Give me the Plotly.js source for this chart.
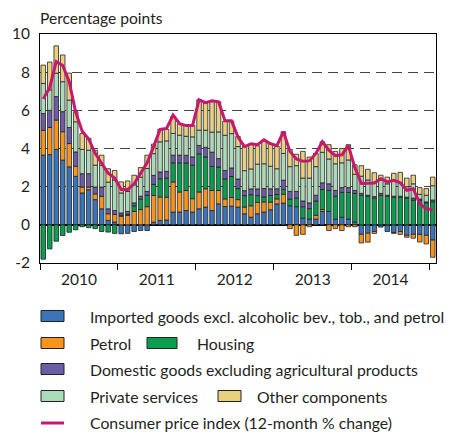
<!DOCTYPE html>
<html><head><meta charset="utf-8">
<script src="https://cdn.plot.ly/plotly-3.0.1.min.js"></script>
<style>html,body{margin:0;padding:0;background:#fff}#chart{width:457px;height:435px}</style>
</head><body><div id="chart"></div>
<script>
// ---- data (monthly, Jan 2010 – Jan 2015), percentage points ----
const yearLabels = ['2010', '2011', '2012', '2013', '2014'];
const monthNames = ['Jan','Feb','Mar','Apr','May','Jun','Jul','Aug','Sep','Oct','Nov','Dec'];

const imported = [3.65,3.68,3.95,3.39,3.04,2.54,1.67,1.84,1.32,0.84,
  0.23,0.15,-0.47,-0.45,-0.35,-0.3,-0.3,0.14,0.23,0.25,
  0.67,0.67,0.75,0.67,0.84,0.93,0.75,1.1,0.96,0.98,
  0.93,0.58,0.4,0.58,0.67,0.79,1.1,1.14,1.0,0.95,
  0.35,0.3,0.3,0.7,0.7,0.3,0.4,0.3,0.15,-0.5,
  -0.44,-0.35,-0.12,-0.35,-0.4,-0.35,-0.55,-0.5,-0.5,-0.55,
  -0.8];
const petrol = [1.3,1.42,1.54,1.49,1.22,0.53,0.31,0.14,0.3,0.65,
  0.35,0.4,0.45,0.5,0.7,0.8,0.95,1.4,1.23,1.2,
  1.58,1.05,1.05,0.7,0.88,0.96,1.05,0.7,0.4,0.45,
  0.39,0.35,0.6,0.6,0.53,0.4,0.26,0.46,-0.2,-0.55,
  -0.5,-0.1,0.2,0.1,-0.3,-0.2,-0.3,-0.1,-0.1,-0.45,
  -0.47,-0.1,0,0,-0.05,-0.15,-0.1,-0.2,-0.4,-0.45,
  -0.9];
const housing = [-1.8,-1.26,-0.86,-0.56,-0.39,-0.26,-0.1,-0.15,-0.2,-0.35,
  -0.38,-0.45,0.05,0.05,0.3,0.55,0.6,0.58,0.96,1.0,
  1.0,1.53,1.44,1.75,2.0,1.67,1.26,1.23,1.05,1.1,
  0.58,0.6,0.58,0.35,0.26,0.35,0.23,0.25,0.35,0.45,
  0.6,0.55,0.75,1.05,1.1,1.2,1.3,1.4,1.5,1.55,
  1.5,1.4,1.55,1.5,1.45,1.45,1.4,1.3,1.3,1.15,
  1.2];
const domestic = [0.88,0.9,1.23,1.05,0.84,0.75,0.7,0.7,0.36,0.49,
  0.26,0.2,0.12,0.15,0.15,0.15,0.2,0.47,0.35,0.35,
  0.4,0.4,0.4,0.44,0.44,0.5,0.75,0.44,0.44,0.45,
  0.5,0.26,0.3,0.35,0.44,0.35,0.3,0.49,0.4,0.35,
  0.3,0.3,0.3,0.35,0.35,0.3,0.25,0.25,0.15,0.1,
  0.05,0.08,0.1,0.05,0.05,0.05,0.05,0.1,0.05,0.05,
  0.1];
const services = [1.58,1.07,1.23,1.57,1.44,1.58,1.27,1.23,1.15,1.14,
  1.4,1.6,1.05,1.05,0.95,1.0,1.2,1.14,1.58,1.6,
  1.14,1.05,1.0,1.05,0.8,0.9,1.05,1.4,1.84,1.8,
  1.7,1.05,1.05,1.3,1.3,1.18,1.05,1.4,1.3,1.35,
  1.2,1.3,1.5,1.6,1.3,1.4,1.3,1.45,0.85,0.9,
  0.8,0.75,0.7,0.6,0.8,0.7,0.55,0.75,0.25,0.35,
  0.75];
const other = [0.96,1.46,1.43,1.4,1.41,0.53,0.84,0.62,0.78,0.53,
  0.7,0.5,0.58,0.55,0.5,0.5,0.7,0.5,0.65,0.6,
  0.9,0.6,0.58,0.6,1.6,1.4,1.6,1.58,0.75,0.65,
  0.53,1.26,1.28,0.96,1.23,1.2,1.18,1.14,0.9,0.6,
  1.4,1.1,0.7,0.55,0.75,0.65,0.75,0.8,0.5,0.55,
  0.56,0.5,0.25,0.35,0.4,0.55,0.45,0.45,0.35,0.35,
  0.45];
const cpi = [6.6,7.2,8.55,8.35,7.5,5.9,4.9,4.5,3.75,3.2,
  2.7,2.45,1.85,1.85,2.15,2.7,3.25,4.1,5.0,5.05,
  5.75,5.3,5.2,5.2,6.55,6.4,6.5,6.45,5.45,5.45,
  4.6,4.1,4.25,4.2,4.45,4.25,4.15,4.88,3.85,3.45,
  3.33,3.35,3.74,4.35,3.91,3.62,3.67,4.15,3.0,2.17,
  2.19,2.19,2.42,2.25,2.33,2.21,1.81,1.89,1.1,0.84,
  0.79];

const seriesNames = ['Imported goods excl. alcoholic bev., tob., and petrol','Petrol','Housing',
  'Domestic goods excluding agricultural products','Private services','Other components'];
const cpiName = 'Consumer price index (12-month % change)';
const yTickVals = [-2,0,2,4,6,8,10];
const yTickText = ['-2','0','2','4','6','8','10'];

// month categories, plotted at integer positions
const months = [];
for (let y = 2010; y <= 2015; y++) for (let m = 0; m < 12; m++) if (months.length < 61) months.push(monthNames[m] + ' ' + y);
const xIdx = months.map((_, i) => i);

const colors = ['#3B74B9','#F7941E','#0A9E4E','#6B5EA7','#AADAB6','#E9D07E'];
const cpiColor = '#C6186E';
const FONT = 'Lato, "Open Sans", sans-serif';
const TXT = '#231F20';
const FS = 15.8;

const values = [imported, petrol, housing, domestic, services, other];
const traces = values.map((v, k) => ({
  type: 'bar', x: xIdx, y: v, name: seriesNames[k], customdata: months,
  marker: {color: colors[k], line: {color: '#222', width: 0.8}},
  hovertemplate: '%{customdata}: %{y}<extra>' + seriesNames[k] + '</extra>'
}));
traces.push({type: 'scatter', mode: 'lines', x: xIdx, y: cpi, name: cpiName, customdata: months,
  line: {color: cpiColor, width: 3}, hovertemplate: '%{customdata}: %{y}<extra></extra>'});

// ---- layout geometry (pixels) ----
const W = 457, H = 435, L = 40, R = 21, T = 34, B = 172;
const pw = W - L - R, ph = H - T - B;
const px = x => (x - L) / pw;
const py = y => (H - B - y) / ph;

const shapes = [], annotations = [];
annotations.push({xref: 'paper', yref: 'paper', x: px(38), y: py(18), xanchor: 'left', yanchor: 'middle',
  text: 'Percentage points', showarrow: false, font: {family: FONT, size: 15.6, color: TXT}});

// custom legend: [rowY, boxX, textX, seriesIndex]
const legendItems = [
  [316, 41, 88, 0], [343, 41, 88, 1], [343, 147, 195, 2], [369, 41, 88, 3],
  [396, 41, 88, 4], [396, 218, 255, 5]
];
legendItems.forEach(([ry, bx, tx, k]) => {
  const bw = (k === 2) ? 30 : 23;
  shapes.push({type: 'rect', xref: 'paper', yref: 'paper', x0: px(bx), x1: px(bx + bw), y0: py(ry - 5.5), y1: py(ry + 5.5),
    fillcolor: colors[k], line: {color: '#222', width: 1}});
  annotations.push({xref: 'paper', yref: 'paper', x: px(tx), y: py(ry), xanchor: 'left', yanchor: 'middle',
    text: seriesNames[k], showarrow: false, font: {family: FONT, size: FS, color: TXT}});
});
shapes.push({type: 'line', xref: 'paper', yref: 'paper', x0: px(41), x1: px(64), y0: py(423), y1: py(423),
  line: {color: cpiColor, width: 3}});
annotations.push({xref: 'paper', yref: 'paper', x: px(88), y: py(423), xanchor: 'left', yanchor: 'middle',
  text: cpiName, showarrow: false, font: {family: FONT, size: FS, color: TXT}});

const layout = {
  width: W, height: H, margin: {l: L, r: R, t: T, b: B, pad: 0},
  paper_bgcolor: '#fff', plot_bgcolor: '#fff',
  barmode: 'relative', bargap: 0.3, showlegend: false,
  font: {family: FONT, size: FS, color: TXT},
  xaxis: {range: [-0.5, 60.5], tickmode: 'array', tickvals: [5.5, 17.5, 29.5, 41.5, 53.5], ticktext: yearLabels,
    ticks: '', ticklabelstandoff: 2, showgrid: false, zeroline: false, showline: true, mirror: true, linecolor: '#000', linewidth: 1,
    tickfont: {family: FONT, size: 15.5, color: TXT},
    minor: {tickmode: 'array', tickvals: [-0.5, 11.5, 23.5, 35.5, 47.5, 59.5], ticks: 'outside', ticklen: 6, tickcolor: '#000', tickwidth: 1, showgrid: false}},
  yaxis: {range: [-2, 10], tickmode: 'array', tickvals: yTickVals, ticktext: yTickText, ticks: '',
    ticklabelstandoff: 6,
    showgrid: true, gridcolor: '#444', griddash: '10px,6px', gridwidth: 1.2,
    zeroline: true, zerolinecolor: '#000', zerolinewidth: 1.5,
    showline: true, mirror: true, linecolor: '#000', linewidth: 1,
    tickfont: {family: FONT, size: 15.5, color: TXT}},
  shapes: shapes, annotations: annotations
};

Plotly.newPlot('chart', traces, layout, {displayModeBar: false, staticPlot: true});
</script>
</body></html>
